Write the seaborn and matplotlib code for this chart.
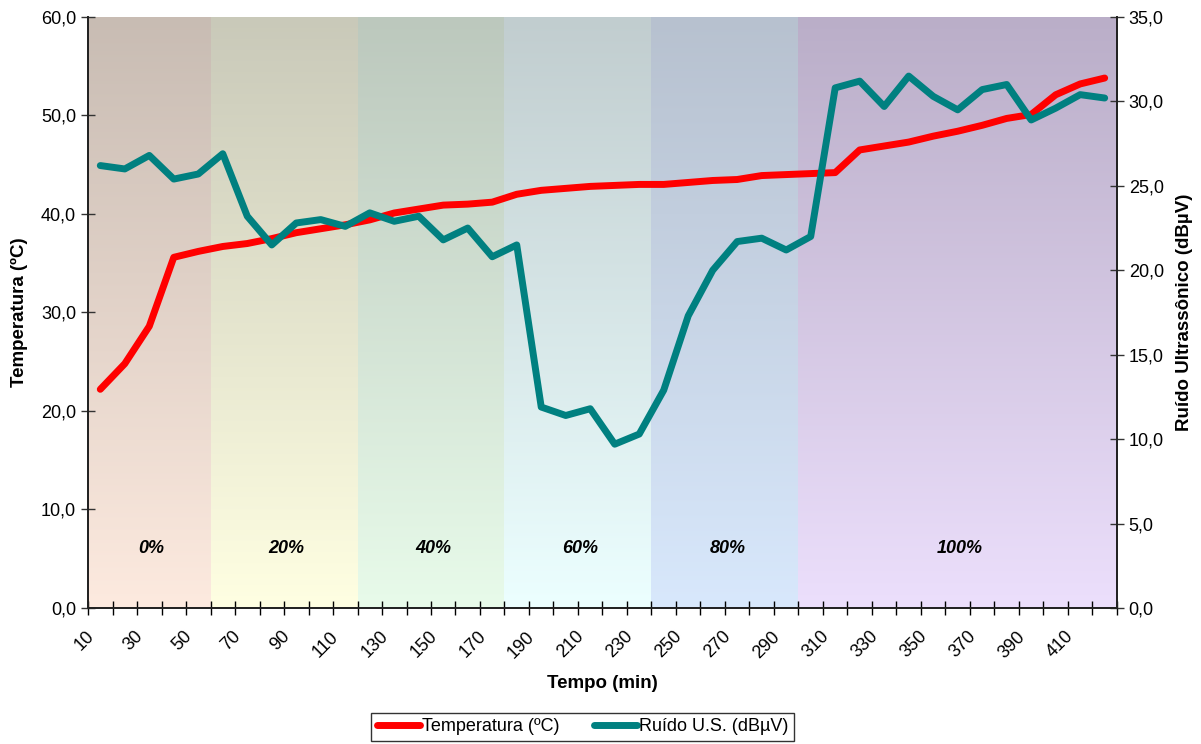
import numpy as np
import seaborn as sns
import matplotlib.pyplot as plt
from matplotlib.colors import LinearSegmentedColormap
from matplotlib.ticker import FuncFormatter, NullFormatter
from matplotlib.transforms import ScaledTranslation

# --- dados ---
TEMPO = list(range(10, 430, 10))
TEMPERATURA = [22.2, 24.8, 28.6, 35.6, 36.2, 36.7, 37.0, 37.5, 38.1, 38.5,
               38.9, 39.4, 40.1, 40.5, 40.9, 41.0, 41.2, 42.0, 42.4, 42.6,
               42.8, 42.9, 43.0, 43.0, 43.2, 43.4, 43.5, 43.9, 44.0, 44.1,
               44.2, 46.5, 46.9, 47.3, 47.9, 48.4, 49.0, 49.7, 50.1, 52.1,
               53.2, 53.8]
RUIDO = [26.2, 26.0, 26.8, 25.4, 25.7, 26.9, 23.2, 21.5, 22.8, 23.0,
         22.6, 23.4, 22.9, 23.2, 21.8, 22.5, 20.8, 21.5, 11.9, 11.4,
         11.8, 9.7, 10.3, 12.9, 17.3, 20.0, 21.7, 21.9, 21.2, 22.0,
         30.8, 31.2, 29.7, 31.5, 30.3, 29.5, 30.7, 31.0, 28.9, 29.6,
         30.4, 30.2]
FAIXAS = ["0%", "20%", "40%", "60%", "80%", "100%"]
FAIXA_LIMITES = [5, 55, 115, 175, 235, 295, 425]
FAIXA_CORES = [("#c8bcb3", "#fdeadf"), ("#c9c9b9", "#ffffe2"),
               ("#bcc8bd", "#e8fbea"), ("#c1cdcf", "#ecffff"),
               ("#b7c1cf", "#d8e8fc"), ("#baaec8", "#ecdffc")]
X_ROTULOS = list(range(10, 420, 20))

sns.set_style("ticks")
plt.rcParams['font.family'] = ['Liberation Sans', 'DejaVu Sans']
plt.rcParams['text.color'] = 'black'
plt.rcParams['axes.labelcolor'] = 'black'
plt.rcParams['xtick.color'] = 'black'
plt.rcParams['ytick.color'] = 'black'

fmt = FuncFormatter(lambda v, p: f"{v:.1f}".replace(".", ","))

fig = plt.figure(figsize=(12.01, 7.44), dpi=100)
ax = fig.add_axes([0.0733, 0.1828, 0.8567, 0.7944])

# faixas de fundo com degrade vertical
grad = np.linspace(0, 1, 256).reshape(-1, 1)
for i, nome in enumerate(FAIXAS):
    x0, x1 = FAIXA_LIMITES[i], FAIXA_LIMITES[i + 1]
    cmap = LinearSegmentedColormap.from_list(nome, FAIXA_CORES[i])
    ax.imshow(grad, extent=(x0, x1, 0, 60), aspect='auto', cmap=cmap,
              origin='upper', zorder=0)
    ax.text((x0 + x1) / 2 + 1, 0.10, nome, transform=ax.get_xaxis_transform(),
            ha='center', va='center', fontsize=13, fontweight='bold',
            fontstyle='italic', zorder=3)

sns.lineplot(x=TEMPO, y=TEMPERATURA, ax=ax, color='#ff0000', linewidth=5,
             legend=False, zorder=2)
ax2 = ax.twinx()
sns.lineplot(x=TEMPO, y=RUIDO, ax=ax2, color='#008080', linewidth=5,
             legend=False, zorder=2)

ax.set_xlim(FAIXA_LIMITES[0], FAIXA_LIMITES[-1])
ax.set_ylim(0, 60)
ax2.set_ylim(0, 35)
ax.set_yticks(np.arange(0, 61, 10))
ax2.set_yticks(np.arange(0, 36, 5))
ax.yaxis.set_major_formatter(fmt)
ax2.yaxis.set_major_formatter(fmt)

# rotulos do eixo x a 45 graus, deslocados como no Excel
ax.set_xticks(X_ROTULOS)
ax.xaxis.set_major_formatter(NullFormatter())
desloc = ax.get_xaxis_transform() + ScaledTranslation(-0.09, -0.26,
                                                      fig.dpi_scale_trans)
for v in X_ROTULOS:
    ax.text(v, 0, str(v), transform=desloc, rotation=45, ha='right',
            va='center', rotation_mode='anchor', fontsize=13)
ax.set_xticks(np.arange(5, 426, 10), minor=True)
ax.tick_params(axis='x', which='major', length=0)
ax.tick_params(axis='x', which='minor', length=10, direction='inout',
               width=1, color='black')
ax.tick_params(axis='y', length=10, direction='inout', width=1,
               labelsize=13, color='#333333')
ax2.tick_params(axis='y', length=10, direction='inout', width=1,
                labelsize=13, color='#333333')

for a in (ax, ax2):
    a.spines['top'].set_visible(False)
    for s in ('left', 'right', 'bottom'):
        a.spines[s].set_color('#222222')
        a.spines[s].set_linewidth(1.3)
    a.grid(False)

ax.set_xlabel("Tempo (min)", fontsize=13.5, fontweight='bold', labelpad=40)
ax.set_ylabel("Temperatura (ºC)", fontsize=13.5, fontweight='bold', labelpad=9)
ax2.set_ylabel("Ruído Ultrassônico (dBµV)", fontsize=13.5, fontweight='bold',
               labelpad=9)

handles = [ax.get_lines()[0], ax2.get_lines()[0]]
leg = fig.legend(handles, ["Temperatura (ºC)", "Ruído U.S. (dBµV)"],
                 loc='upper center', bbox_to_anchor=(0.485, 0.054), ncol=2,
                 frameon=True, fancybox=False, edgecolor='#333333',
                 framealpha=1, fontsize=13, handlelength=2.4,
                 handletextpad=0.1, columnspacing=1.9, borderpad=0.3)
leg.get_frame().set_linewidth(1.0)

fig.savefig("out.png", dpi=100)
